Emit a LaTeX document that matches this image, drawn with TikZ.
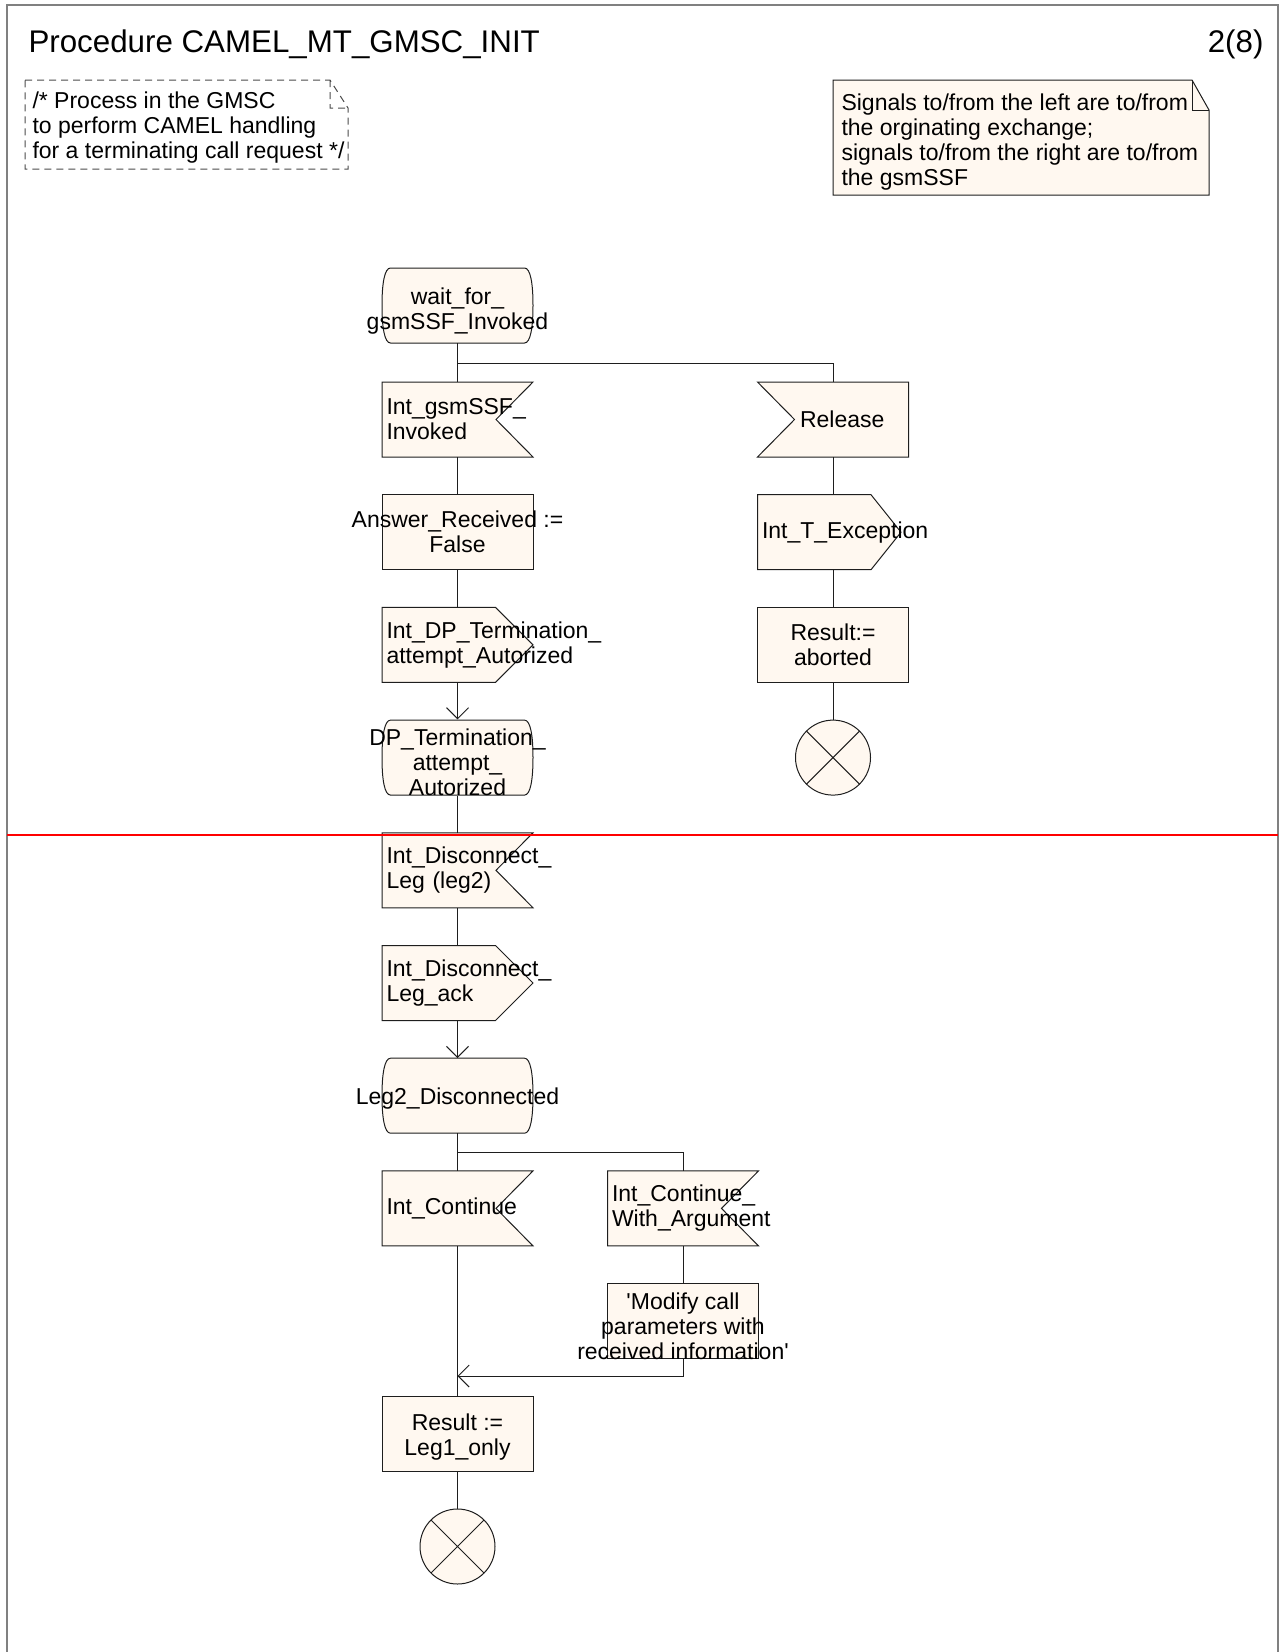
\documentclass[tikz,border=0pt]{standalone}
\usepackage{fontspec}
\setmainfont{Liberation Sans}
\usetikzlibrary{arrows.meta,calc}
\pgfdeclarelayer{bg}
\pgfsetlayers{bg,main}
\definecolor{symfill}{RGB}{255,248,240}
\definecolor{symline}{RGB}{30,30,30}
\definecolor{framegray}{RGB}{128,128,128}
\hyphenpenalty=10000
\exhyphenpenalty=10000

% SDL symbol outlines, drawn behind the text of the named node
\newcommand\SDLstate[1]{\begin{pgfonlayer}{bg}\path[outline,shift={(#1.center)}]
  (-67,-37.5) -- (67,-37.5) .. controls (73,-37.5) and (75.5,-22) .. (75.5,0)
  .. controls (75.5,22) and (73,37.5) .. (67,37.5) -- (-67,37.5)
  .. controls (-73,37.5) and (-75.5,22) .. (-75.5,0)
  .. controls (-75.5,-22) and (-73,-37.5) .. (-67,-37.5) -- cycle;\end{pgfonlayer}}
\newcommand\SDLinR[1]{\begin{pgfonlayer}{bg}\path[outline,shift={(#1.center)}]
  (-75.5,-37.5) -- (75.5,-37.5) -- (38.5,0) -- (75.5,37.5) -- (-75.5,37.5) -- cycle;\end{pgfonlayer}}
\newcommand\SDLinL[1]{\begin{pgfonlayer}{bg}\path[outline,shift={(#1.center)}]
  (-75.5,-37.5) -- (75.5,-37.5) -- (75.5,37.5) -- (-75.5,37.5) -- (-38.5,0) -- cycle;\end{pgfonlayer}}
\newcommand\SDLoutR[1]{\begin{pgfonlayer}{bg}\path[outline,shift={(#1.center)}]
  (-75.5,-37.5) -- (38,-37.5) -- (75.5,0) -- (38,37.5) -- (-75.5,37.5) -- cycle;\end{pgfonlayer}}
\newcommand\SDLoutRnarrow[1]{\begin{pgfonlayer}{bg}\path[outline,shift={(#1.center)}]
  (-75.5,-37.5) -- (38,-37.5) -- (68,0) -- (38,37.5) -- (-75.5,37.5) -- cycle;\end{pgfonlayer}}
\newcommand\SDLtask[1]{\begin{pgfonlayer}{bg}\path[outline,shift={(#1.center)}]
  (-75.5,-37.5) rectangle (75.5,37.5);\end{pgfonlayer}}

\begin{document}
\begin{tikzpicture}[x=1pt,y=-1pt,
  every node/.style={font=\fontsize{23}{25}\selectfont, inner ysep=0pt},
  sym/.style={minimum width=151pt, minimum height=75pt, inner xsep=4.5pt},
  sigtext/.style={sym, text width=142pt, align=left},
  centext/.style={sym, align=center},
  outline/.style={draw=symline, fill=symfill, line width=1pt},
  flow/.style={draw=symline, line width=1pt},
  flowarrow/.style={flow, -{Straight Barb[length=11pt,width=22pt]}},
  endsym/.style={circle, minimum size=75pt, inner sep=0pt, outline,
    path picture={\draw[symline, line width=1pt]
      (path picture bounding box.north west) -- (path picture bounding box.south east)
      (path picture bounding box.north east) -- (path picture bounding box.south west);}},
  titletext/.style={font=\fontsize{31.3}{37}\selectfont}
]
\useasboundingbox (0,0) rectangle (1284,1652);

% page frame and header
\draw[framegray, line width=2pt] (7,1660) -- (7,5) -- (1278,5) -- (1278,1660);
\node[titletext, anchor=base west] (title) at (25,52) {Procedure CAMEL\_MT\_GMSC\_INIT};
\node[titletext, anchor=base east] (page) at (1267,52) {2(8)};

% comment
\draw[symline!80, line width=1pt, dash pattern=on 7pt off 5pt]
  (25,80) -- (330,80) -- (348,108) -- (348,169) -- (25,169) -- cycle
  (330,80) -- (330,108) -- (348,108);
\node[anchor=west, align=left] (comment) at (29,127.5)
  {/* Process in the GMSC\\to perform CAMEL handling\\for a terminating call request */};

% text annotation
\draw[outline] (833,80) -- (1192,80) -- (1209,110) -- (1209,195) -- (833,195) -- cycle;
\draw[flow] (1192,80) -- (1192,110) -- (1209,110);
\node[anchor=west, align=left] (note) at (838,142)
  {Signals to/from the left are to/from\\the orginating exchange;\\signals to/from the right are to/from\\the gsmSSF};

% page separator
\draw[red, line width=1.5pt] (7,835) -- (1278,835);

% main column
\node[centext, text height=52pt, text depth=5pt] (wait) at (457.5,305.5) {wait\_for\_\\gsmSSF\_Invoked}; \SDLstate{wait}
\node[sigtext] (invoked) at (457.5,419.5) {Int\_gsmSSF\_\\Invoked}; \SDLinR{invoked}
\node[centext] (answer) at (457.5,532.2) {Answer\_Received :=\\False}; \SDLtask{answer}
\node[sigtext] (dpauth) at (457.5,644.9) {Int\_DP\_Termination\_\\attempt\_Autorized}; \SDLoutR{dpauth}
\node[centext, text height=76pt, text depth=-1pt] (dpstate) at (457.5,757.6) {DP\_Termination\_\\attempt\_\\Autorized}; \SDLstate{dpstate}
\node[sigtext] (disc) at (457.5,870.3) {Int\_Disconnect\_\\Leg (leg2)}; \SDLinR{disc}
\node[sigtext] (discack) at (457.5,983) {Int\_Disconnect\_\\Leg\_ack}; \SDLoutR{discack}
\node[centext, text height=23pt] (leg2) at (457.5,1095.7) {Leg2\_Disconnected}; \SDLstate{leg2}
\node[sigtext] (cont) at (457.5,1208.4) {Int\_Continue}; \SDLinR{cont}
\node[centext, text height=48pt, text depth=5pt] (leg1) at (457.5,1433.8) {Result :=\\Leg1\_only}; \SDLtask{leg1}
\node[endsym] (stop2) at (457.5,1546.5) {};

% release branch
\node[sigtext] (release) at (833,419.5) {\hspace*{38pt}Release}; \SDLinL{release}
\node[sigtext] (texc) at (833,532.2) {Int\_T\_Exception}; \SDLoutRnarrow{texc}
\node[centext] (aborted) at (833,644.9) {Result:=\\aborted}; \SDLtask{aborted}
\node[endsym] (stop1) at (833,757.6) {};

% continue-with-argument branch
\node[sigtext] (contarg) at (683,1208.4) {Int\_Continue\_\\With\_Argument}; \SDLinR{contarg}
\node[centext, text height=76pt, text depth=-1pt] (modify) at (683,1321.1)
  {\textquotesingle Modify call\\parameters with\\received information\textquotesingle}; \SDLtask{modify}

% junction points
\coordinate (fork1) at (457.5,363);
\coordinate (fork2) at (457.5,1152);
\coordinate (merge) at (457.5,1376);

% flow lines
\draw[flow] (wait.south) -- (invoked.north);
\draw[flow] (fork1) -| (release.north);
\draw[flow] (invoked.south) -- (answer.north);
\draw[flow] (answer.south) -- (dpauth.north);
\draw[flowarrow] (dpauth.south) -- (dpstate.north);
\draw[flow] (dpstate.south) -- (disc.north);
\draw[flow] (disc.south) -- (discack.north);
\draw[flowarrow] (discack.south) -- (leg2.north);
\draw[flow] (leg2.south) -- (cont.north);
\draw[flow] (fork2) -| (contarg.north);
\draw[flow] (cont.south) -- (leg1.north);
\draw[flow] (leg1.south) -- (stop2.north);

\draw[flow] (release.south) -- (texc.north);
\draw[flow] (texc.south) -- (aborted.north);
\draw[flow] (aborted.south) -- (stop1.north);

\draw[flow] (contarg.south) -- (modify.north);
\draw[flowarrow] (modify.south) |- (merge);
\end{tikzpicture}
\end{document}
